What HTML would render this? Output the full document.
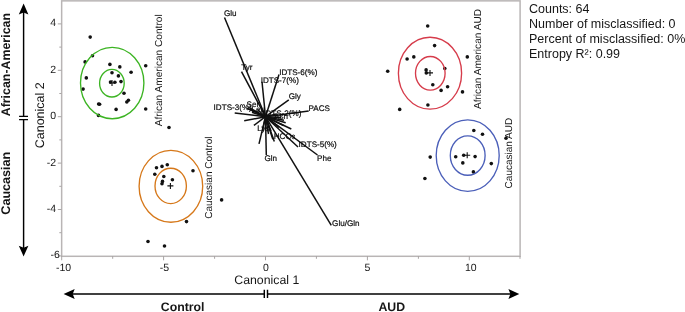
<!DOCTYPE html>
<html><head><meta charset="utf-8"><title>Canonical plot</title>
<style>
html,body{margin:0;padding:0;background:#fff;}
body{width:685px;height:312px;overflow:hidden;position:relative;-webkit-font-smoothing:antialiased;font-family:"Liberation Sans",sans-serif;color:#111;}
svg{position:absolute;left:0;top:0;will-change:transform;}
text{font-family:"Liberation Sans",sans-serif;fill:#161616;text-rendering:geometricPrecision;}
.t10{font-size:10.5px;}
.r10{font-size:10.15px;}
.t10r{font-size:10px;}
.t8{font-size:8.1px;stroke:#000;stroke-width:0.2px;}
.t12{font-size:12.3px;}
.b12{font-size:12.3px;font-weight:bold;}
.info{will-change:transform;position:absolute;left:528.6px;top:1.8px;font-size:12.5px;line-height:14.9px;white-space:nowrap;color:#161616;}
</style></head><body>
<svg width="685" height="312" viewBox="0 0 685 312">

<rect x="61.65" y="0.85" width="458.45" height="255.45" fill="none" stroke="#b9b5b5" stroke-width="1.5"/>
<line x1="61.7" y1="256" x2="61.7" y2="260.3" stroke="#a9a5a5" stroke-width="1"/>
<text class="t10" x="63.6" y="270.6" text-anchor="middle">-10</text>
<line x1="163.6" y1="256" x2="163.6" y2="260.3" stroke="#a9a5a5" stroke-width="1"/>
<text class="t10" x="164.5" y="270.6" text-anchor="middle">-5</text>
<line x1="265.5" y1="256" x2="265.5" y2="260.3" stroke="#a9a5a5" stroke-width="1"/>
<text class="t10" x="266" y="270.6" text-anchor="middle">0</text>
<line x1="367.4" y1="256" x2="367.4" y2="260.3" stroke="#a9a5a5" stroke-width="1"/>
<text class="t10" x="367.4" y="270.6" text-anchor="middle">5</text>
<line x1="469.3" y1="256" x2="469.3" y2="260.3" stroke="#a9a5a5" stroke-width="1"/>
<text class="t10" x="470.8" y="270.6" text-anchor="middle">10</text>
<line x1="112.7" y1="256" x2="112.7" y2="258.8" stroke="#a9a5a5" stroke-width="1"/>
<line x1="214.6" y1="256" x2="214.6" y2="258.8" stroke="#a9a5a5" stroke-width="1"/>
<line x1="316.4" y1="256" x2="316.4" y2="258.8" stroke="#a9a5a5" stroke-width="1"/>
<line x1="418.4" y1="256" x2="418.4" y2="258.8" stroke="#a9a5a5" stroke-width="1"/>
<line x1="520.0" y1="256" x2="520.0" y2="258.8" stroke="#a9a5a5" stroke-width="1"/>
<line x1="57.8" y1="23.9" x2="61.5" y2="23.9" stroke="#a9a5a5" stroke-width="1"/>
<text class="t10" x="56.2" y="26.4" text-anchor="end">4</text>
<line x1="57.8" y1="70.3" x2="61.5" y2="70.3" stroke="#a9a5a5" stroke-width="1"/>
<text class="t10" x="56.2" y="72.8" text-anchor="end">2</text>
<line x1="57.8" y1="116.7" x2="61.5" y2="116.7" stroke="#a9a5a5" stroke-width="1"/>
<text class="t10" x="56.2" y="119.2" text-anchor="end">0</text>
<line x1="57.8" y1="163.1" x2="61.5" y2="163.1" stroke="#a9a5a5" stroke-width="1"/>
<text class="t10" x="56.2" y="165.5" text-anchor="end">-2</text>
<line x1="57.8" y1="209.5" x2="61.5" y2="209.5" stroke="#a9a5a5" stroke-width="1"/>
<text class="t10" x="56.2" y="211.9" text-anchor="end">-4</text>
<line x1="57.8" y1="255.9" x2="61.5" y2="255.9" stroke="#a9a5a5" stroke-width="1"/>
<text class="t10" x="59.8" y="258.3" text-anchor="end">-6</text>
<line x1="59.3" y1="47.1" x2="61.5" y2="47.1" stroke="#a9a5a5" stroke-width="1"/>
<line x1="59.3" y1="93.5" x2="61.5" y2="93.5" stroke="#a9a5a5" stroke-width="1"/>
<line x1="59.3" y1="139.9" x2="61.5" y2="139.9" stroke="#a9a5a5" stroke-width="1"/>
<line x1="59.3" y1="186.3" x2="61.5" y2="186.3" stroke="#a9a5a5" stroke-width="1"/>
<line x1="59.3" y1="232.7" x2="61.5" y2="232.7" stroke="#a9a5a5" stroke-width="1"/>
<line x1="265.5" y1="116.7" x2="224.5" y2="17.5" stroke="#111" stroke-width="1.5"/>
<line x1="265.5" y1="116.7" x2="241.5" y2="71.7" stroke="#111" stroke-width="1.5"/>
<line x1="265.5" y1="116.7" x2="279" y2="74.5" stroke="#111" stroke-width="1.5"/>
<line x1="265.5" y1="116.7" x2="262" y2="81.7" stroke="#111" stroke-width="1.5"/>
<line x1="265.5" y1="116.7" x2="288.8" y2="99.8" stroke="#111" stroke-width="1.5"/>
<line x1="265.5" y1="116.7" x2="308.7" y2="110.9" stroke="#111" stroke-width="1.5"/>
<line x1="265.5" y1="116.7" x2="234.7" y2="113" stroke="#111" stroke-width="1.5"/>
<line x1="265.5" y1="116.7" x2="298" y2="147" stroke="#111" stroke-width="1.5"/>
<line x1="265.5" y1="116.7" x2="317.5" y2="155" stroke="#111" stroke-width="1.5"/>
<line x1="265.5" y1="116.7" x2="266.3" y2="155" stroke="#111" stroke-width="1.5"/>
<line x1="265.5" y1="116.7" x2="331.3" y2="225.3" stroke="#111" stroke-width="1.5"/>
<line x1="265.5" y1="116.7" x2="244.2" y2="120.8" stroke="#111" stroke-width="1.5"/>
<line x1="265.5" y1="116.7" x2="253.9" y2="125.4" stroke="#111" stroke-width="1.5"/>
<line x1="265.5" y1="116.7" x2="259" y2="143.9" stroke="#111" stroke-width="1.5"/>
<line x1="265.5" y1="116.7" x2="291.3" y2="129" stroke="#111" stroke-width="1.5"/>
<line x1="265.5" y1="116.7" x2="247" y2="108.4" stroke="#111" stroke-width="1.5"/>
<line x1="265.5" y1="116.7" x2="248.5" y2="107.3" stroke="#111" stroke-width="1.5"/>
<line x1="265.5" y1="116.7" x2="250.2" y2="108.8" stroke="#111" stroke-width="1.5"/>
<line x1="265.5" y1="116.7" x2="252" y2="112.3" stroke="#111" stroke-width="1.5"/>
<line x1="265.5" y1="116.7" x2="257.5" y2="109.5" stroke="#111" stroke-width="1.5"/>
<line x1="265.5" y1="116.7" x2="285.7" y2="122.8" stroke="#111" stroke-width="1.5"/>
<line x1="265.5" y1="116.7" x2="284" y2="120.3" stroke="#111" stroke-width="1.5"/>
<line x1="265.5" y1="116.7" x2="281" y2="117.5" stroke="#111" stroke-width="1.5"/>
<line x1="265.5" y1="116.7" x2="276" y2="114" stroke="#111" stroke-width="1.5"/>
<line x1="265.5" y1="116.7" x2="274.3" y2="141.5" stroke="#111" stroke-width="1.5"/>
<line x1="265.5" y1="116.7" x2="272.8" y2="139.2" stroke="#111" stroke-width="1.5"/>
<line x1="265.5" y1="116.7" x2="271" y2="131" stroke="#111" stroke-width="1.5"/>
<line x1="265.5" y1="116.7" x2="262.5" y2="131" stroke="#111" stroke-width="1.5"/>
<line x1="265.5" y1="116.7" x2="268.5" y2="134" stroke="#111" stroke-width="1.5"/>
<line x1="265.5" y1="116.7" x2="279" y2="127.5" stroke="#111" stroke-width="1.5"/>
<line x1="265.5" y1="116.7" x2="283.5" y2="125.5" stroke="#111" stroke-width="1.5"/>
<circle cx="90.2" cy="37.1" r="1.8" fill="#111"/>
<circle cx="92.5" cy="55.8" r="1.8" fill="#111"/>
<circle cx="85.1" cy="61.9" r="1.8" fill="#111"/>
<circle cx="109.9" cy="64.4" r="1.8" fill="#111"/>
<circle cx="119.8" cy="66.9" r="1.8" fill="#111"/>
<circle cx="145.7" cy="65.7" r="1.8" fill="#111"/>
<circle cx="131.1" cy="72.2" r="1.8" fill="#111"/>
<circle cx="112" cy="72.7" r="1.8" fill="#111"/>
<circle cx="118.4" cy="75.9" r="1.8" fill="#111"/>
<circle cx="86.3" cy="77.9" r="1.8" fill="#111"/>
<circle cx="110.5" cy="82.1" r="1.8" fill="#111"/>
<circle cx="114.9" cy="82.3" r="1.8" fill="#111"/>
<circle cx="121" cy="81.6" r="1.8" fill="#111"/>
<circle cx="83.1" cy="89.1" r="1.8" fill="#111"/>
<circle cx="124" cy="93.2" r="1.8" fill="#111"/>
<circle cx="128.4" cy="100.2" r="1.8" fill="#111"/>
<circle cx="126.8" cy="102" r="1.8" fill="#111"/>
<circle cx="98.6" cy="104" r="1.8" fill="#111"/>
<circle cx="99.6" cy="104.2" r="1.8" fill="#111"/>
<circle cx="116.1" cy="109.4" r="1.8" fill="#111"/>
<circle cx="145.7" cy="109" r="1.8" fill="#111"/>
<circle cx="98.5" cy="115.4" r="1.8" fill="#111"/>
<circle cx="169" cy="127.5" r="1.8" fill="#111"/>
<circle cx="156.5" cy="167.8" r="1.8" fill="#111"/>
<circle cx="162" cy="166.4" r="1.8" fill="#111"/>
<circle cx="167.3" cy="164.8" r="1.8" fill="#111"/>
<circle cx="154.8" cy="174.2" r="1.8" fill="#111"/>
<circle cx="163.8" cy="176.5" r="1.8" fill="#111"/>
<circle cx="172.4" cy="179.8" r="1.8" fill="#111"/>
<circle cx="162.5" cy="181.4" r="1.8" fill="#111"/>
<circle cx="162" cy="183.7" r="1.8" fill="#111"/>
<circle cx="193" cy="170.8" r="1.8" fill="#111"/>
<circle cx="221.6" cy="199.9" r="1.8" fill="#111"/>
<circle cx="186.5" cy="221.6" r="1.8" fill="#111"/>
<circle cx="148" cy="241.5" r="1.8" fill="#111"/>
<circle cx="164.5" cy="246" r="1.8" fill="#111"/>
<circle cx="427.7" cy="26" r="1.8" fill="#111"/>
<circle cx="434.6" cy="45.6" r="1.8" fill="#111"/>
<circle cx="413.8" cy="56.9" r="1.8" fill="#111"/>
<circle cx="407.1" cy="59" r="1.8" fill="#111"/>
<circle cx="467.3" cy="56.9" r="1.8" fill="#111"/>
<circle cx="387.7" cy="71.3" r="1.8" fill="#111"/>
<circle cx="426.1" cy="69.9" r="1.8" fill="#111"/>
<circle cx="426.3" cy="72.9" r="1.8" fill="#111"/>
<circle cx="444.8" cy="68.5" r="1.8" fill="#111"/>
<circle cx="432.8" cy="84.7" r="1.8" fill="#111"/>
<circle cx="441.1" cy="90.4" r="1.8" fill="#111"/>
<circle cx="447.6" cy="86.8" r="1.8" fill="#111"/>
<circle cx="462.5" cy="91.9" r="1.8" fill="#111"/>
<circle cx="427.9" cy="105" r="1.8" fill="#111"/>
<circle cx="399.7" cy="109.4" r="1.8" fill="#111"/>
<circle cx="473.8" cy="130.5" r="1.8" fill="#111"/>
<circle cx="482.5" cy="134.3" r="1.8" fill="#111"/>
<circle cx="506" cy="138.2" r="1.8" fill="#111"/>
<circle cx="430.2" cy="157.1" r="1.8" fill="#111"/>
<circle cx="455.7" cy="156.8" r="1.8" fill="#111"/>
<circle cx="463.7" cy="155.2" r="1.8" fill="#111"/>
<circle cx="475.1" cy="156.6" r="1.8" fill="#111"/>
<circle cx="462.8" cy="162.9" r="1.8" fill="#111"/>
<circle cx="491.3" cy="163.6" r="1.8" fill="#111"/>
<circle cx="473.4" cy="171.9" r="1.8" fill="#111"/>
<circle cx="424.9" cy="178.5" r="1.8" fill="#111"/>
<path d="M109.0 83H115.0M112 80.0V86.0" stroke="#111" stroke-width="1.1" fill="none"/>
<path d="M167.4 185.9H173.4M170.4 182.9V188.9" stroke="#111" stroke-width="1.1" fill="none"/>
<path d="M427.0 72.9H433.0M430 69.9V75.9" stroke="#111" stroke-width="1.1" fill="none"/>
<path d="M464.2 155.2H470.2M467.2 152.2V158.2" stroke="#111" stroke-width="1.1" fill="none"/>
<ellipse cx="112.2" cy="83" rx="31.7" ry="35.7" fill="none" stroke="#3cb423" stroke-width="1.35"/>
<ellipse cx="111.9" cy="83.2" rx="12.3" ry="13.8" fill="none" stroke="#3cb423" stroke-width="1.35"/>
<ellipse cx="170.9" cy="186.3" rx="31.8" ry="35.9" fill="none" stroke="#d6781a" stroke-width="1.35"/>
<ellipse cx="170.7" cy="185.9" rx="15.7" ry="17.7" fill="none" stroke="#d6781a" stroke-width="1.35"/>
<ellipse cx="430" cy="73.2" rx="31.6" ry="35.9" fill="none" stroke="#d63c4b" stroke-width="1.35"/>
<ellipse cx="430.3" cy="73.3" rx="14.8" ry="16.8" fill="none" stroke="#d63c4b" stroke-width="1.35"/>
<ellipse cx="467.7" cy="155.6" rx="31.5" ry="35.8" fill="none" stroke="#4b5fb9" stroke-width="1.35"/>
<ellipse cx="467.7" cy="155.5" rx="17.4" ry="19.7" fill="none" stroke="#4b5fb9" stroke-width="1.35"/>
<text class="t8" x="224" y="16">Glu</text>
<text class="t8" x="241.2" y="70.2">Tyr</text>
<text class="t8" x="279.2" y="75">IDTS-6(%)</text>
<text class="t8" x="260.7" y="82.8">IDTS-7(%)</text>
<text class="t8" x="288.7" y="98.9">Gly</text>
<text class="t8" x="308.5" y="110.7">PACS</text>
<text class="t8" x="213.6" y="110.3">IDTS-3(%)</text>
<text class="t8" x="246.6" y="106.8">Ser</text>
<text class="t8" x="263.2" y="115.6">IDTS-2(%)</text>
<text class="t8" x="274" y="119.3">Asn</text>
<text class="t8" x="273.7" y="138.7">HCO<tspan font-size="6" dy="0.5">3</tspan></text>
<text class="t8" x="251.5" y="112.3">Leu</text>
<text class="t8" x="257.3" y="131">Lys</text>
<text class="t8" x="298.6" y="147.4">IDTS-5(%)</text>
<text class="t8" x="317" y="160.6">Phe</text>
<text class="t8" x="264.5" y="160.9">Gln</text>
<text class="t8" x="332.1" y="225.8">Glu/Gln</text>
<text class="r10" transform="translate(161.8,126.3) rotate(-90)">African American Control</text>
<text class="t10r" transform="translate(212.2,218.8) rotate(-90)">Caucasian Control</text>
<text class="r10" transform="translate(481.4,109.1) rotate(-90)">African American AUD</text>
<text class="t10r" transform="translate(512.4,188.4) rotate(-90)">Caucasian AUD</text>
<text class="t12" x="234.3" y="284">Canonical 1</text>
<text class="t12" style="font-size:12.5px" transform="translate(43.8,148.3) rotate(-90)">Canonical 2</text>
<text class="b12" style="font-size:12.4px" transform="translate(10.3,116.3) rotate(-90)">African-American</text>
<text class="b12" style="font-size:12.6px" transform="translate(10.1,214.7) rotate(-90)">Caucasian</text>
<text class="b12" x="160.8" y="311">Control</text>
<text class="b12" x="378.4" y="311">AUD</text>
<path d="M23.6 10V250" stroke="#000" stroke-width="1.45" fill="none"/>
<path d="M23.6 3.5L18.8 14.5L23.6 12.5L28.4 14.5Z M23.6 256.4L18.8 245.7L23.6 247.7L28.4 245.7Z" fill="#000"/>
<path d="M70 294H512" stroke="#000" stroke-width="1.45" fill="none"/>
<path d="M63.6 294L74.7 289.1L72.7 294L74.7 298.9Z M519.3 294.05L508.4 289.1L510.4 294.05L508.4 299Z" fill="#000"/>
<rect x="21" y="117" width="5" height="2.2" fill="#fff"/><path d="M19.1 116.4H28M19.1 119.7H28" stroke="#000" stroke-width="1.3"/>
<rect x="265" y="292" width="2" height="4" fill="#fff"/><path d="M264.3 289.8V298.1M267.5 289.8V298.1" stroke="#000" stroke-width="1.45"/>
</svg>
<div class="info">Counts: 64<br>Number of misclassified: 0<br>Percent of misclassified: 0%<br>Entropy R²: 0.99</div>
</body></html>
